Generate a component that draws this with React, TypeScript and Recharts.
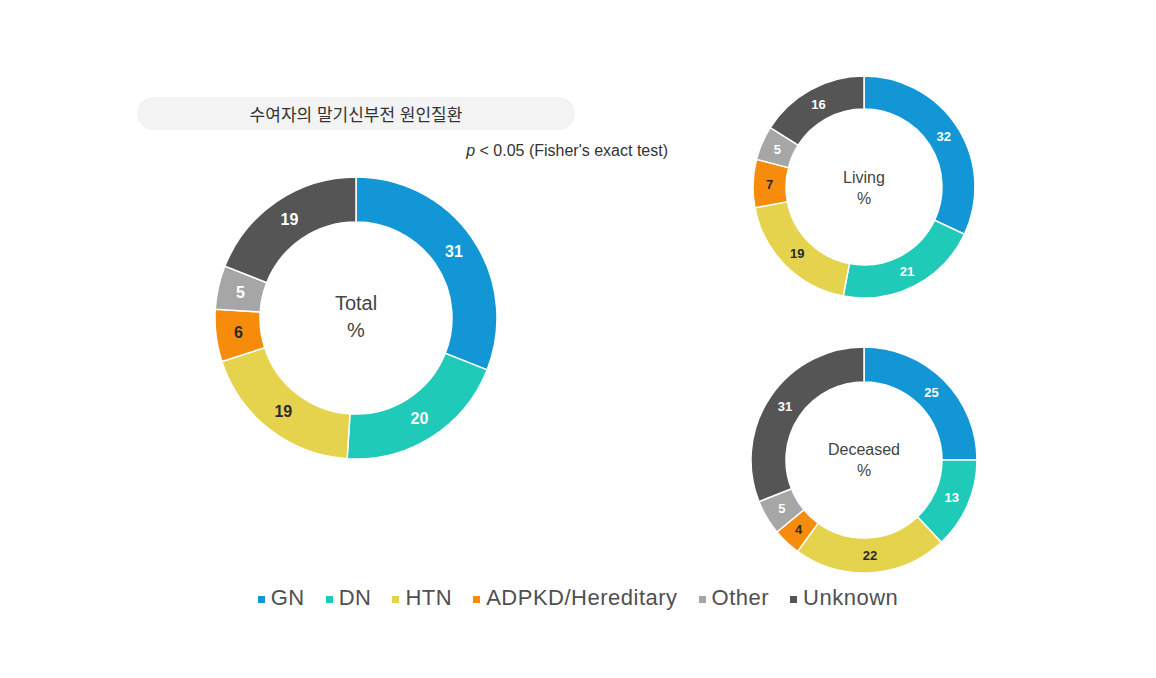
import React from 'react';
import { PieChart, Pie, Cell } from 'recharts';

const categories = ['GN', 'DN', 'HTN', 'ADPKD/Hereditary', 'Other', 'Unknown'];
const totalValues = [31, 20, 19, 6, 5, 19];
const livingValues = [32, 21, 19, 7, 5, 16];
const deceasedValues = [25, 13, 22, 4, 5, 31];
const colors = ['#1396d6', '#1fcab9', '#e5d24d', '#f78c0c', '#a6a6a6', '#555555'];
const labelColors = ['#ffffff', '#ffffff', '#2a2a2a', '#2a2a2a', '#ffffff', '#ffffff'];

const toRows = (values: number[]) => categories.map((name, i) => ({ name, value: values[i] }));

const totalData = toRows(totalValues);
const livingData = toRows(livingValues);
const deceasedData = toRows(deceasedValues);

const FONT = '"Liberation Sans", Arial, "Noto Sans CJK KR", sans-serif';
const RAD = Math.PI / 180;

const makeLabel = (fontSize: number) => (props: any) => {
  const { cx, cy, midAngle, innerRadius, outerRadius, value, index } = props;
  const r = (innerRadius + outerRadius) / 2;
  const x = cx + r * Math.cos(-midAngle * RAD);
  const y = cy + r * Math.sin(-midAngle * RAD);
  return (
    <text
      x={x}
      y={y}
      fill={labelColors[index]}
      fontSize={fontSize}
      fontWeight="bold"
      fontFamily={FONT}
      textAnchor="middle"
      dominantBaseline="central"
    >
      {value}
    </text>
  );
};

const CenterText: React.FC<{ x: number; y: number; size: number; lines: string[]; gap: number }> = ({ x, y, size, lines, gap }) => (
  <div
    style={{
      position: 'absolute',
      left: x - 100,
      top: y,
      width: 200,
      textAlign: 'center',
      fontFamily: FONT,
      fontSize: size,
      color: '#444',
      lineHeight: `${gap}px`,
    }}
  >
    {lines.map((l) => (
      <div key={l}>{l}</div>
    ))}
  </div>
);

const App: React.FC = () => {
  const pies = [
    { data: totalData, cx: 356, cy: 318, inner: 96, outer: 141, font: 16 },
    { data: livingData, cx: 864, cy: 187, inner: 78, outer: 111, font: 13 },
    { data: deceasedData, cx: 864, cy: 460, inner: 78, outer: 113, font: 13 },
  ];

  return (
    <div style={{ position: 'absolute', left: 0, top: 0, width: 1156, height: 678, background: '#fff', fontFamily: FONT }}>
      <div
        style={{
          position: 'absolute',
          left: 137,
          top: 97,
          width: 438,
          height: 33,
          borderRadius: 17,
          background: '#f3f3f3',
          display: 'flex',
          alignItems: 'center',
          justifyContent: 'center',
          fontSize: 17,
          color: '#333',
        }}
      >
        수여자의 말기신부전 원인질환
      </div>
      <div style={{ position: 'absolute', left: 368, top: 142, width: 300, textAlign: 'right', fontSize: 16, color: '#333' }}>
        <i>p</i> &lt; 0.05 (Fisher's exact test)
      </div>

      <PieChart
        width={1156}
        height={678}
        margin={{ top: 0, right: 0, bottom: 0, left: 0 }}
        style={{ position: 'absolute', left: 0, top: 0 }}
      >
        {pies.map((p, k) => (
          <Pie
            key={k}
            data={p.data}
            dataKey="value"
            nameKey="name"
            cx={p.cx}
            cy={p.cy}
            innerRadius={p.inner}
            outerRadius={p.outer}
            startAngle={90}
            endAngle={-270}
            stroke="#ffffff"
            strokeWidth={1.5}
            label={makeLabel(p.font)}
            labelLine={false}
            isAnimationActive={false}
          >
            {p.data.map((d, i) => (
              <Cell key={d.name} fill={colors[i]} />
            ))}
          </Pie>
        ))}
      </PieChart>

      <CenterText x={356} y={290} size={20} gap={27} lines={['Total', '%']} />
      <CenterText x={864} y={167} size={16} gap={21} lines={['Living', '%']} />
      <CenterText x={864} y={439} size={16} gap={21} lines={['Deceased', '%']} />

      <div
        style={{
          position: 'absolute',
          left: 0,
          top: 585,
          width: 1156,
          display: 'flex',
          justifyContent: 'center',
          alignItems: 'center',
          fontSize: 22,
          color: '#505050',
          letterSpacing: 0.5,
        }}
      >
        {categories.map((c, i) => (
          <div key={c} style={{ display: 'flex', alignItems: 'center', marginRight: i < categories.length - 1 ? 21 : 0 }}>
            <span style={{ display: 'inline-block', width: 7, height: 7, background: colors[i], marginRight: 6, marginTop: 3 }} />
            <span>{c}</span>
          </div>
        ))}
      </div>
    </div>
  );
};

export default App;
